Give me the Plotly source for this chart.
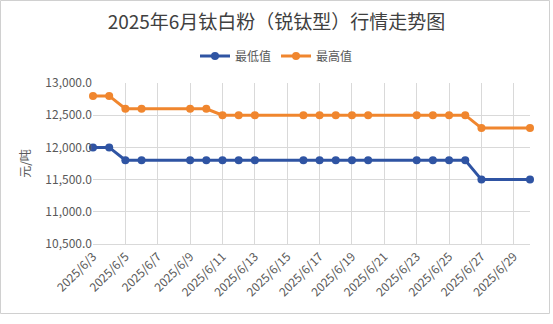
import plotly.graph_objects as go

dates_low = ["2025-06-03","2025-06-04","2025-06-05","2025-06-06","2025-06-09","2025-06-10",
             "2025-06-11","2025-06-12","2025-06-13","2025-06-16","2025-06-17","2025-06-18",
             "2025-06-19","2025-06-20","2025-06-23","2025-06-24","2025-06-25","2025-06-26",
             "2025-06-27","2025-06-30"]
low_vals = [12000,12000,11800,11800,11800,11800,11800,11800,11800,11800,11800,11800,
            11800,11800,11800,11800,11800,11800,11500,11500]
high_vals = [12800,12800,12600,12600,12600,12600,12500,12500,12500,12500,12500,12500,
             12500,12500,12500,12500,12500,12500,12300,12300]

W, H = 553, 324
ml, mr, mt, mb = 93, 23, 83, 80

fig = go.Figure()
fig.add_trace(go.Scatter(x=dates_low, y=low_vals, name="最低值", mode="lines+markers", cliponaxis=False,
                         line=dict(color="#2F54A3", width=3), marker=dict(size=8, color="#2F54A3")))
fig.add_trace(go.Scatter(x=dates_low, y=high_vals, name="最高值", mode="lines+markers", cliponaxis=False,
                         line=dict(color="#F0862E", width=3), marker=dict(size=8, color="#F0862E")))

pw = W - ml - mr
ph = H - mt - mb
x0 = (0.5 - ml) / pw
x1 = (549.5 - ml) / pw
y1 = 1 + (mt - 0.5) / ph
y0 = 1 - (313.5 - mt) / ph

fig.update_layout(
    width=W, height=H,
    margin=dict(l=ml, r=mr, t=mt, b=mb, autoexpand=False),
    paper_bgcolor="white", plot_bgcolor="white",
    font=dict(family="Noto Sans CJK SC, Microsoft YaHei, sans-serif", color="#595959", size=12),
    title=dict(text="2025年6月钛白粉（锐钛型）行情走势图", x=0.5, xanchor="center", y=0.93, yanchor="middle",
               font=dict(size=19, color="#404040")),
    legend=dict(orientation="h", xref="container", x=0.5, xanchor="center",
                yref="container", y=1 - 56 / H, yanchor="middle",
                font=dict(size=12, color="#595959"), itemwidth=30, tracegroupgap=0),
    showlegend=True,
    xaxis=dict(type="date", range=["2025-06-03", "2025-06-30"], dtick=2*86400000, tick0="2025-06-03",
               tickformat="%Y/%-m/%-d", tickangle=-45, showgrid=True, gridcolor="#D9D9D9", gridwidth=1,
               showline=True, linecolor="#D9D9D9", linewidth=1, ticks="", zeroline=False,
               tickfont=dict(size=12, color="#595959")),
    yaxis=dict(range=[10500, 13000], dtick=500, tickformat=",.1f", showgrid=True, gridcolor="#D9D9D9",
               gridwidth=1, zeroline=False, ticks="", showline=False,
               title=dict(text="元/吨", font=dict(size=12, color="#595959"), standoff=12),
               tickfont=dict(size=12, color="#595959")),
    shapes=[dict(type="rect", xref="paper", yref="paper", x0=x0, x1=x1, y0=y0, y1=y1,
                 line=dict(color="#D0D0D0", width=1), fillcolor="rgba(0,0,0,0)", layer="below")],
)

fig.write_html("out.html")
